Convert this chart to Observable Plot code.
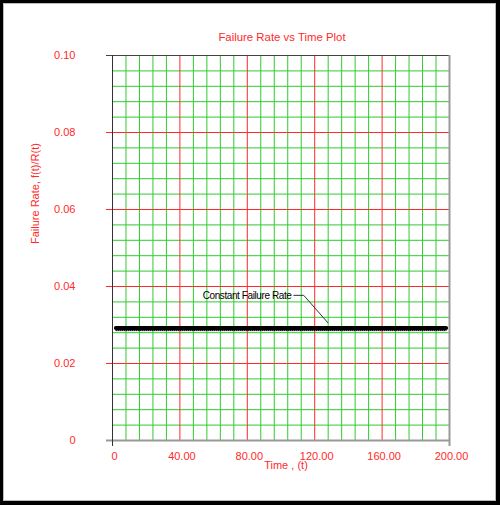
<!DOCTYPE html>
<html>
<head>
<meta charset="utf-8">
<script src="https://cdn.jsdelivr.net/npm/d3@7"></script>
<script src="https://cdn.jsdelivr.net/npm/@observablehq/plot@0.6"></script>
<style>
  html, body { margin: 0; padding: 0; background: #fff; }
  #wrap { position: relative; width: 500px; height: 505px; overflow: hidden; background: #fff; }
  #wrap svg { position: absolute; left: 0; top: 0; }
  #frame { position: absolute; left: 0; top: 0; width: 500px; height: 505px; box-sizing: border-box;
    border-style: solid; border-color: #000; border-width: 3px 4px 4px 3px;
    box-shadow: inset 0 0 0 1px #bbb; pointer-events: none; }
</style>
</head>
<body>
<div id="wrap"><div id="frame"></div></div>
<script>
// ---- data ----
const title = "Failure Rate vs Time Plot";
const xLabel = "Time , (t)";
const yLabel = "Failure Rate, f(t)/R(t)";
const xTicks = [0, 40, 80, 120, 160, 200];
const xTickLabels = ["0", "40.00", "80.00", "120.00", "160.00", "200.00"];
const yTicks = [0, 0.02, 0.04, 0.06, 0.08, 0.10];
const yTickLabels = ["0", "0.02", "0.04", "0.06", "0.08", "0.10"];
const timeValues = [2, 198];
const rateValues = [0.0292, 0.0292];
const annotationText = ["Constant Failure Rate"];
const annotationX = [53.5];
const annotationY = [0.0377];
const leaderT = [107.6, 113.5, 127.8];
const leaderRate = [0.0377, 0.0377, 0.0306];

// ---- derived tables ----
const series = timeValues.map((t, i) => ({t, rate: rateValues[i]}));
const leader = leaderT.map((t, i) => ({t, rate: leaderRate[i]}));
const notes = annotationText.map((s, i) => ({s, t: annotationX[i], rate: annotationY[i]}));
const xMinor = d3.range(8, 200, 8).filter(v => v % 40 !== 0);
const yMinor = d3.range(1, 25).map(i => i * 0.004).filter((v, i) => (i + 1) % 5 !== 0);
const xMajor = xTicks.slice(1, -1);
const yMajor = yTicks.slice(1, -1);

const green = "#2ecc2e";
const red = "#ff2a2a";
const font = "'Liberation Sans', Arial, sans-serif";

const chart = Plot.plot({
  width: 500,
  height: 505,
  marginLeft: 112,
  marginRight: 51,
  marginTop: 55,
  marginBottom: 65,
  style: {fontFamily: font, fontSize: "11px", background: "transparent"},
  x: {domain: [0, 200], axis: null},
  y: {domain: [0, 0.1], axis: null},
  marks: [
    Plot.ruleX(xMinor, {stroke: green, strokeWidth: 1}),
    Plot.ruleY(yMinor, {stroke: green, strokeWidth: 1}),
    Plot.ruleX(xMajor, {stroke: red, strokeWidth: 1}),
    Plot.ruleY(yMajor, {stroke: red, strokeWidth: 1, insetLeft: -6}),
    Plot.ruleY([0.1], {stroke: "#444", strokeWidth: 1, insetLeft: -6}),
    Plot.ruleX([200], {stroke: "#999", strokeWidth: 2, insetBottom: -6}),
    Plot.ruleY([0], {stroke: "#999", strokeWidth: 2, insetLeft: -6}),
    Plot.ruleX([0], {stroke: "#333", strokeWidth: 1, insetBottom: -6}),
    Plot.axisY(yTicks, {tickSize: 0, tickPadding: 37, fill: red, fontSize: 11,
      tickFormat: d => yTickLabels[yTicks.indexOf(d)], label: null}),
    Plot.axisX(xTicks, {tickSize: 0, tickPadding: 12, dx: 2, fill: red, fontSize: 11,
      tickFormat: d => xTickLabels[xTicks.indexOf(d)], label: null}),
    Plot.line(series, {x: "t", y: "rate", stroke: "#000", strokeWidth: 4}),
    Plot.line(series, {x: "t", y: "rate", stroke: "#000", strokeWidth: 1, strokeDasharray: "1,1", dy: 2.5}),
    Plot.line(leader, {x: "t", y: "rate", stroke: "#333", strokeWidth: 1}),
    Plot.text(notes, {x: "t", y: "rate", text: "s", textAnchor: "start", fill: "#000", fontSize: 10}),
    Plot.text([title], {frameAnchor: "top", dy: -23, dx: 1, fill: red, fontSize: 11.4}),
    Plot.text([xLabel], {frameAnchor: "bottom", dy: 28, dx: 5, fill: red, fontSize: 11}),
    Plot.text([yLabel], {frameAnchor: "left", rotate: -90, dx: -77, dy: -4, fill: red, fontSize: 11})
  ]
});
chart.querySelectorAll("text").forEach(t => {
  if (annotationText.includes(t.textContent)) t.style.letterSpacing = "-0.4px";
});
document.getElementById("wrap").insertBefore(chart, document.getElementById("frame"));
</script>
</body>
</html>
